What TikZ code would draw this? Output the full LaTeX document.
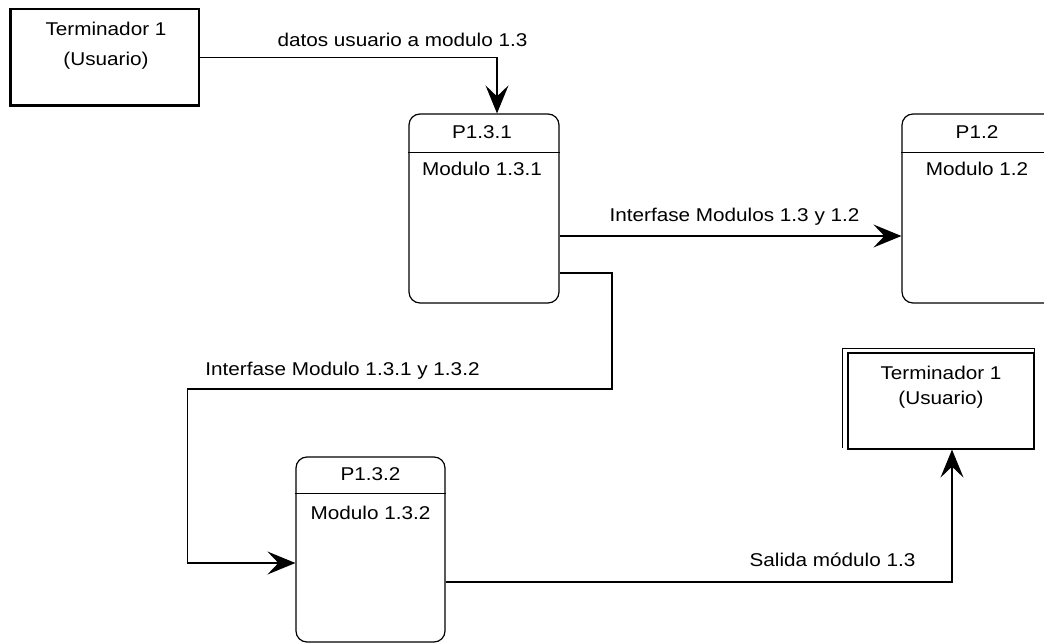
\documentclass[tikz,border=0pt]{standalone}
\usepackage{fontspec}
\setmainfont{Liberation Sans}[FakeStretch=1.12]
\usetikzlibrary{arrows.meta,calc}
\begin{document}
\begin{tikzpicture}[x=1pt,y=-1pt,
  line width=1.2pt,
  every node/.style={font=\fontsize{18.5}{22}\selectfont, inner sep=0pt},
  txt/.style={anchor=base},
  procbox/.style={draw, rounded corners=11pt, minimum width=150pt, minimum height=189pt},
  termbox/.style={draw, minimum width=189pt, minimum height=97pt},
  flow/.style={-{Stealth[length=28pt,width=23pt,inset=11pt]}}]
\useasboundingbox (0,0) rectangle (1044,644);
\fill[white] (0,0) rectangle (1044,644);
\begin{scope}
\clip (0,0) rectangle (1044,644);

% Terminator 1 (top-left)
\node[termbox] (T1) at (104.5,57.5) {};
\draw[line width=2.6pt] ([xshift=1pt]T1.north west) -- ([xshift=1pt,yshift=1pt]T1.south west) -- ([yshift=1pt]T1.south east);
\node[txt] (T1a) at (106,36) {Terminador 1};
\node[txt] (T1b) at (106,66) {(Usuario)};

% P1.3.1
\node[procbox] (P131) at (484,208.5) {};
\draw ([yshift=-39pt]P131.north west) -- ([yshift=-39pt]P131.north east);
\node[txt] (P131a) at (482,139) {P1.3.1};
\node[txt] (P131b) at (482,176) {Modulo 1.3.1};

% P1.2 (cut by the right edge)
\node[procbox, minimum width=200pt] (P12) at (1002,208.5) {};
\draw ([yshift=-39pt]P12.north west) -- ([yshift=-39pt]P12.north east);
\node[txt] (P12a) at (977,139) {P1.2};
\node[txt] (P12b) at (977,176) {Modulo 1.2};

% P1.3.2
\node[procbox, minimum width=149pt, minimum height=185pt] (P132) at (370.5,549.5) {};
\draw ([yshift=-37pt]P132.north west) -- ([yshift=-37pt]P132.north east);
\node[txt] (P132a) at (370.5,480) {P1.3.2};
\node[txt] (P132b) at (370.5,519) {Modulo 1.3.2};

% Terminator 1 (right, double edged)
\node[draw, minimum width=186pt, minimum height=96pt] (T2) at (941,401) {};
\draw ([xshift=-5pt,yshift=2pt]T2.south west) -- ([xshift=-5pt,yshift=4pt]T2.north west) -- ([yshift=4pt]T2.north east) -- (T2.north east);
\node[txt] (T2a) at (941,379) {Terminador 1};
\node[txt] (T2b) at (941,404) {(Usuario)};

% Connectors
\draw[flow] (T1.east) -| ([xshift=13pt]P131.north);
\node[txt] (L1) at (402.5,47) {datos usuario a modulo 1.3};

\draw[flow] ([yshift=-27.5pt]P131.east) -- ([yshift=-27.5pt]P12.west);
\node[txt] (L2) at (734.5,222) {Interfase Modulos 1.3 y 1.2};

\coordinate (c1) at (612,389);
\draw[flow] ([yshift=-64.5pt]P131.east) -| (c1) -| ([xshift=-108pt,yshift=-13.5pt]P132.west) -- ([yshift=-13.5pt]P132.west);
\node[txt] (L3) at (342.5,375) {Interfase Modulo 1.3.1 y 1.3.2};

\draw[flow] ([yshift=-32.5pt]P132.east) -| ([xshift=11pt]T2.south);
\node[txt] (L4) at (832.5,566) {Salida módulo 1.3};
\end{scope}
\end{tikzpicture}
\end{document}
